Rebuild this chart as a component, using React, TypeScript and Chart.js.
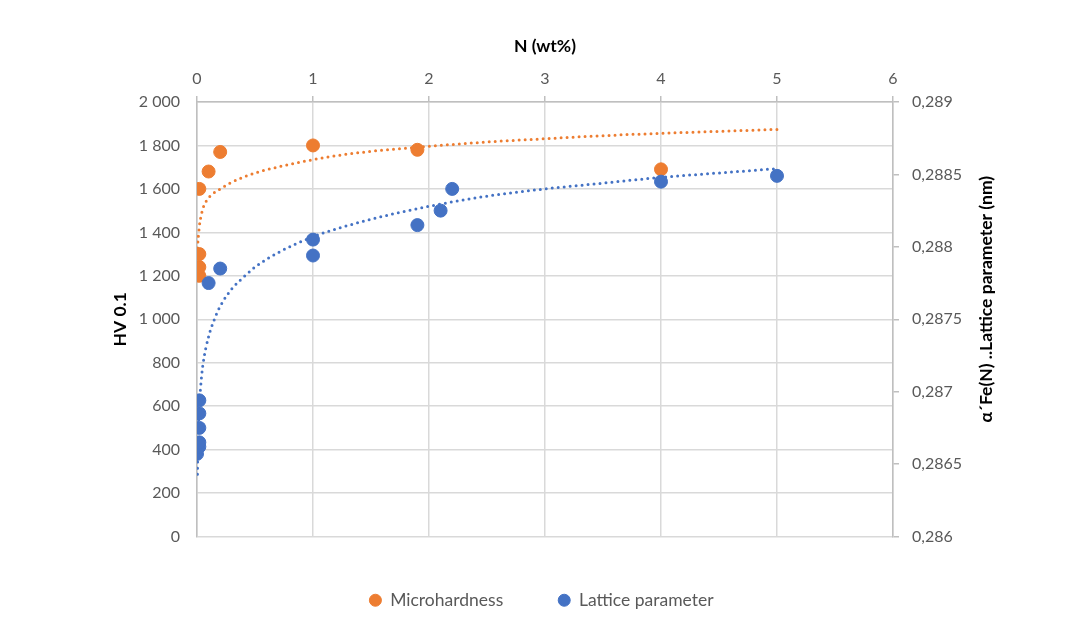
import { useEffect, useRef } from "react";
import { Chart, registerables } from "chart.js";

Chart.register(...registerables);

// datos
const hardnessN = [0.02, 0.02, 0.02, 0.02, 0.1, 0.2, 1, 1.9, 4];
const hardnessHV = [1200, 1240, 1300, 1600, 1680, 1770, 1800, 1780, 1690];

const latticeN = [0, 0.02, 0.02, 0.02, 0.02, 0.02, 0.1, 0.2, 1, 1, 1.9, 2.1, 2.2, 4, 5];
const latticeNm = [
  0.28657, 0.28662, 0.28665, 0.28675, 0.28685, 0.28694, 0.28775, 0.28785,
  0.28805, 0.28794, 0.28815, 0.28825, 0.2884, 0.28845, 0.28849,
];

// líneas de tendencia (punteadas), muestreadas del gráfico
const hardnessTrendN = [
  0.004, 0.008, 0.014, 0.02, 0.034, 0.057, 0.086, 0.123, 0.186, 0.272, 0.4,
  0.544, 0.716, 0.888, 1.118, 1.5, 2, 2.5, 3, 3.5, 4, 4.5, 5,
];
const hardnessTrendHV = [
  1300, 1360, 1390, 1427, 1473, 1519, 1549, 1572, 1595, 1623, 1654, 1680, 1703,
  1723, 1746, 1773, 1796, 1816, 1831, 1845, 1856, 1865, 1874,
];

const latticeTrendN = [
  0.004, 0.006, 0.01, 0.02, 0.03, 0.05, 0.1, 0.15, 0.2, 0.3, 0.4, 0.5, 0.7, 1,
  1.5, 2, 2.5, 3, 3.5, 4, 4.5, 5,
];
const latticeTrendNm = [
  0.28643, 0.28655, 0.2867, 0.2869, 0.28702, 0.28718, 0.28738, 0.2875, 0.28759,
  0.28771, 0.28779, 0.28786, 0.28796, 0.28807, 0.28819, 0.28828, 0.28835,
  0.2884, 0.28844, 0.28848, 0.28851, 0.28854,
];

const seriesNames = ["Microhardness", "Lattice parameter"];
const xTitle = "N (wt%)";
const yTitle = "HV 0.1";
const y1Title = "α´Fe(N) ..Lattice parameter (nm)";

const ORANGE = "#ED7D31";
const BLUE = "#4472C4";
const FONT = "Lato";
const TICK_COLOR = "#595959";
const GRID = "#d9d9d9";
const AXIS = "#bfbfbf";
const TITLE_SIZE = 17.5;

const toPoints = (xs: number[], ys: number[]) => xs.map((x, i) => ({ x, y: ys[i] }));

const formatHV = (v: number) =>
  v >= 1000 ? `${Math.floor(v / 1000)} ${String(v % 1000).padStart(3, "0")}` : String(v);

const formatNm = (v: number) => String(Number(v.toFixed(4))).replace(".", ",");

// título del eje derecho, leído de abajo hacia arriba como en Excel
const rightTitlePlugin = {
  id: "rightTitle",
  afterDraw(chart: any) {
    const scale = chart.scales.y1;
    const { ctx, chartArea } = chart;
    ctx.save();
    ctx.translate(scale.right - 97, (chartArea.top + chartArea.bottom) / 2 - 20);
    ctx.rotate(-Math.PI / 2);
    ctx.font = `bold ${TITLE_SIZE}px ${FONT}`;
    ctx.fillStyle = "#000";
    ctx.textAlign = "center";
    ctx.textBaseline = "middle";
    ctx.fillText(y1Title, 0, 0);
    ctx.restore();
  },
};

const App = () => {
  const canvasRef = useRef<HTMLCanvasElement>(null);

  useEffect(() => {
    document.body.style.margin = "0";
    if (!canvasRef.current) return;

    const trendStyle = {
      type: "line" as const,
      showLine: true,
      pointRadius: 0,
      borderWidth: 3,
      borderDash: [0, 6],
      borderCapStyle: "round" as const,
      cubicInterpolationMode: "monotone" as const,
      fill: false,
      order: 3,
    };

    const chart = new Chart(canvasRef.current, {
      type: "scatter",
      data: {
        datasets: [
          {
            label: seriesNames[0],
            data: toPoints(hardnessN, hardnessHV),
            backgroundColor: ORANGE,
            borderColor: ORANGE,
            pointRadius: 6.5,
            yAxisID: "y",
            order: 2,
          },
          {
            label: seriesNames[1],
            data: toPoints(latticeN, latticeNm),
            backgroundColor: BLUE,
            borderColor: BLUE,
            pointRadius: 6.5,
            yAxisID: "y1",
            order: 1,
          },
          {
            ...trendStyle,
            label: "trend-hv",
            data: toPoints(hardnessTrendN, hardnessTrendHV),
            borderColor: ORANGE,
            yAxisID: "y",
          },
          {
            ...trendStyle,
            label: "trend-nm",
            data: toPoints(latticeTrendN, latticeTrendNm),
            borderColor: BLUE,
            yAxisID: "y1",
          },
        ] as any,
      },
      options: {
        responsive: true,
        maintainAspectRatio: false,
        animation: false,
        layout: { padding: { left: 0, right: 0, top: 0, bottom: 17 } },
        scales: {
          x: {
            type: "linear",
            position: "top",
            min: 0,
            max: 6,
            ticks: {
              stepSize: 1,
              color: TICK_COLOR,
              padding: 8,
              font: { family: FONT, size: 16 },
            },
            grid: { color: GRID, lineWidth: 1.5, tickColor: AXIS, tickLength: 6 },
            border: { color: AXIS, width: 1.5 },
            title: {
              display: true,
              text: xTitle,
              color: "#000",
              font: { family: FONT, size: TITLE_SIZE, weight: "bold" },
              padding: { top: 36, bottom: 0 },
            },
            afterFit: (s: any) => {
              s.height = 102;
            },
          },
          y: {
            type: "linear",
            position: "left",
            min: 0,
            max: 2000,
            ticks: {
              stepSize: 200,
              color: TICK_COLOR,
              padding: 17,
              font: { family: FONT, size: 16 },
              callback: (v: any) => formatHV(Number(v)),
            },
            grid: { color: GRID, lineWidth: 1.5, drawTicks: false },
            border: { color: AXIS, width: 1.5 },
            title: {
              display: true,
              text: yTitle,
              color: "#000",
              font: { family: FONT, size: TITLE_SIZE, weight: "bold" },
              padding: { top: 110, bottom: 0 },
            },
            afterFit: (s: any) => {
              s.width = 197;
            },
          },
          y1: {
            type: "linear",
            position: "right",
            min: 0.286,
            max: 0.289,
            ticks: {
              stepSize: 0.0005,
              color: TICK_COLOR,
              padding: 13,
              font: { family: FONT, size: 16 },
              callback: (v: any) => formatNm(Number(v)),
            },
            grid: { drawOnChartArea: false, tickColor: AXIS, tickLength: 6, lineWidth: 1.5 },
            border: { color: AXIS, width: 1.5 },
            afterFit: (s: any) => {
              s.width = 190;
            },
          },
        },
        plugins: {
          tooltip: { enabled: false },
          title: { display: false },
          legend: {
            position: "bottom",
            labels: {
              usePointStyle: true,
              pointStyle: "circle",
              boxWidth: 12,
              boxHeight: 8.5,
              padding: 55,
              color: TICK_COLOR,
              font: { family: FONT, size: 17.5 },
              filter: (item: any) => item.datasetIndex < 2,
              sort: (a: any, b: any) => a.datasetIndex - b.datasetIndex,
            },
          },
        },
      },
      plugins: [rightTitlePlugin],
    });

    return () => {
      chart.destroy();
    };
  }, []);

  return (
    <div style={{ position: "relative", width: 1083, height: 636 }}>
      <canvas ref={canvasRef} />
    </div>
  );
};

export default App;
